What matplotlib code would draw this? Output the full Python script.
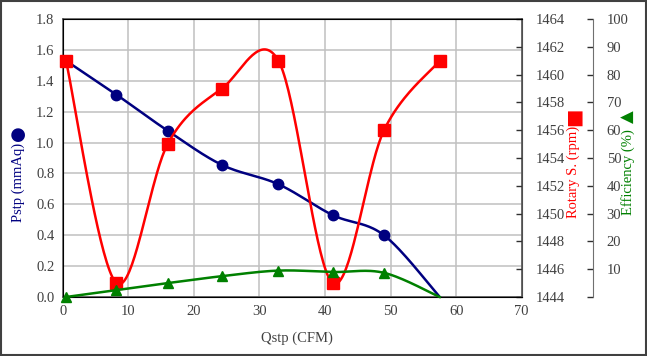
import numpy as np
import matplotlib
matplotlib.use("Agg")
import matplotlib.pyplot as plt
from matplotlib.ticker import FuncFormatter, MultipleLocator
from matplotlib.patches import Rectangle

# ---- data ----
qstp = [0.5, 8.2, 16.0, 24.3, 32.9, 41.2, 49.0, 57.5]
pstp = [1.53, 1.31, 1.077, 0.855, 0.73, 0.53, 0.40, 0.0]
rpm = [1461, 1445, 1455, 1459, 1461, 1445, 1456, 1461]
eff = [0.0, 2.5, 5.0, 7.5, 9.5, 9.0, 8.7, 0.0]

x_ticks = [0, 10, 20, 30, 40, 50, 60, 70]
x_label = "Qstp (CFM)"
y1_label = "Pstp (mmAq)"
y2_label = "Rotary S. (rpm)"
y3_label = "Efficiency (%)"

C_BLUE = "#000080"
C_RED = "#ff0000"
C_GREEN = "#008000"
C_TXT = "#404040"

plt.rcParams["font.family"] = ["Liberation Serif", "DejaVu Sans"]
FS = 10.5


def smooth(x, y, n=40):
    """Excel-like smoothed line: cubic Bezier with Catmull-Rom control points."""
    x = np.asarray(x, float)
    y = np.asarray(y, float)
    P = np.column_stack([x, y])
    Pe = np.vstack([P[0], P, P[-1]])
    out = []
    t = np.linspace(0, 1, n)[:, None]
    for i in range(len(P) - 1):
        p0 = Pe[i + 1]
        p3 = Pe[i + 2]
        c1 = p0 + (Pe[i + 2] - Pe[i]) / 6.0
        c2 = p3 - (Pe[i + 3] - Pe[i + 1]) / 6.0
        seg = ((1 - t) ** 3) * p0 + 3 * ((1 - t) ** 2) * t * c1 + 3 * (1 - t) * t ** 2 * c2 + t ** 3 * p3
        out.append(seg if i == 0 else seg[1:])
    out = np.vstack(out)
    return out[:, 0], out[:, 1]


W, H = 647, 356
fig = plt.figure(figsize=(W / 100, H / 100), dpi=100)
L, R, T, B = 62.7, 521.7, 19, 297
ax = fig.add_axes([L / W, 1 - B / H, (R - L) / W, (B - T) / H])

ax.set_xlim(x_ticks[0], x_ticks[-1])
ax.set_xticks(x_ticks)
ax.set_ylim(0, 1.8)
ax.yaxis.set_major_locator(MultipleLocator(0.2))
ax.yaxis.set_major_formatter(FuncFormatter(lambda v, p: f"{v:.1f}"))
ax.grid(True, color="#c0c0c0", lw=1.1)
ax.set_axisbelow(True)
ax.tick_params(axis="both", length=0, labelsize=FS, colors=C_TXT, pad=6)
for s in ax.spines.values():
    s.set_color("#505050")
    s.set_linewidth(1.1)

ax2 = ax.twinx()
ax2.set_ylim(1444, 1464)
ax2.yaxis.set_major_locator(MultipleLocator(2))
ax2.tick_params(axis="y", direction="in", length=4, width=1, color="#303030",
                labelsize=FS, labelcolor=C_TXT, pad=10)
ax2.spines["right"].set_color("#505050")

ax3 = ax.twinx()
ax3.set_ylim(0, 100)
ax3.yaxis.set_major_locator(MultipleLocator(10))
ax3.yaxis.set_major_formatter(FuncFormatter(lambda v, p: "" if v < 1 else f"{v:.0f}"))
ax3.spines["right"].set_position(("axes", (592.7 - L) / (R - L)))
ax3.spines["right"].set_color("#707070")
for s in ["top", "left", "bottom"]:
    ax3.spines[s].set_visible(False)
ax3.tick_params(axis="y", direction="in", length=4, width=1, color="#303030",
                labelsize=FS, labelcolor=C_TXT, pad=10)

# series
xs, ys = smooth(qstp, pstp)
ax.plot(xs, ys, color=C_BLUE, lw=1.8, zorder=3)
ax.plot(qstp[:-1], pstp[:-1], "o", color=C_BLUE, ms=7.5, zorder=4, clip_on=False)

xs, ys = smooth(qstp, rpm)
ax2.plot(xs, ys, color=C_RED, lw=1.8, zorder=3)
ax2.plot(qstp, rpm, "s", color=C_RED, ms=8.5, zorder=4, clip_on=False)

xs, ys = smooth(qstp, eff)
ax3.plot(xs, ys, color=C_GREEN, lw=1.8, zorder=3, clip_on=False)
ax3.plot(qstp[:-1], eff[:-1], "^", color=C_GREEN, ms=7.5, zorder=4, clip_on=False)

# labels
fig.text(297 / W, 1 - 338 / H, x_label, ha="center", va="center", fontsize=FS, color=C_TXT)

fig.text(18 / W, 1 - 182 / H, y1_label, rotation=90, ha="center", va="center", fontsize=FS, color=C_BLUE)
fig.text(18 / W, 1 - 133 / H, "\u25CF", rotation=90, ha="center", va="center", fontsize=13,
         color=C_BLUE, family="DejaVu Sans")

fig.text(573 / W, 1 - 172 / H, y2_label, rotation=90, ha="center", va="center", fontsize=FS, color=C_RED)
fig.text(573 / W, 1 - 117 / H, "\u25A0", rotation=90, ha="center", va="center", fontsize=14,
         color=C_RED, family="DejaVu Sans")

fig.text(628 / W, 1 - 172 / H, y3_label, rotation=90, ha="center", va="center", fontsize=FS, color=C_GREEN)
fig.text(628 / W, 1 - 117 / H, "\u25B2", rotation=90, ha="center", va="center", fontsize=12,
         color=C_GREEN, family="DejaVu Sans")

fig.patches.append(Rectangle((0.001, 0.002), 0.997, 0.995, transform=fig.transFigure,
                             fill=False, edgecolor="#404040", lw=1.5))

fig.savefig("out.png", dpi=100)
